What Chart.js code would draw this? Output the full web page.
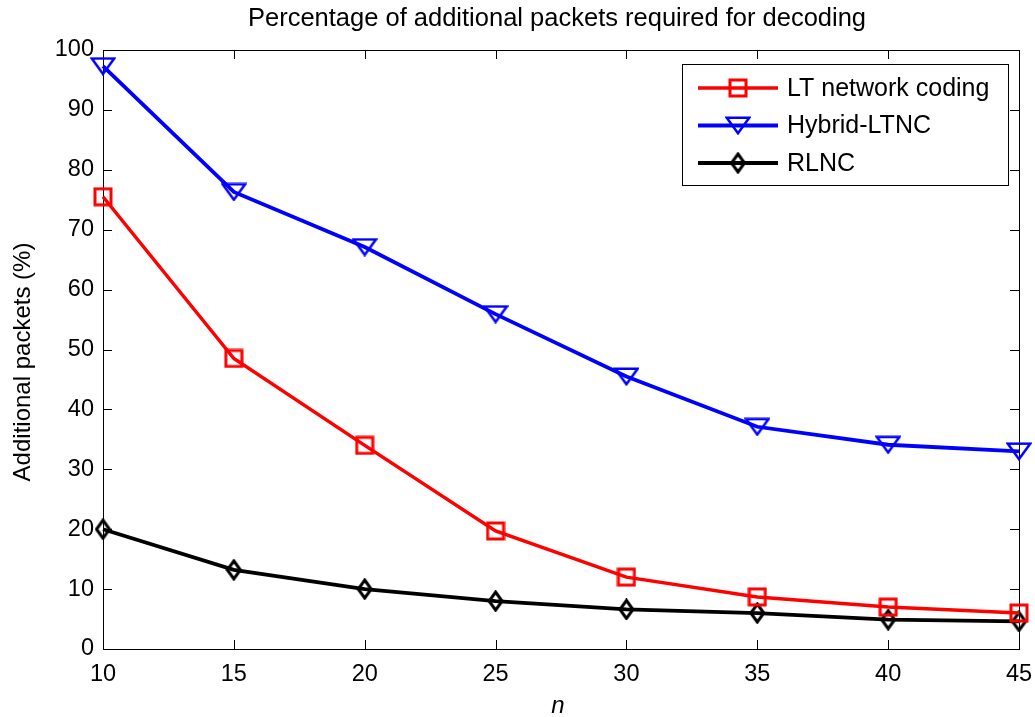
<!DOCTYPE html>
<html>
<head>
<meta charset="utf-8">
<script src="https://cdn.jsdelivr.net/npm/chart.js@4/dist/chart.umd.min.js"></script>
<style>
  body { margin: 0; background: #fff; }
  #wrap { width: 1035px; height: 717px; }
</style>
</head>
<body>
<div id="wrap"><canvas id="chart" width="1035" height="717"></canvas></div>
<script>
const nValues = [10, 15, 20, 25, 30, 35, 40, 45];
const ltCoding = [75.5, 48.5, 34, 19.7, 12, 8.7, 7, 6];
const hybridLtnc = [97.3, 76.3, 67.1, 55.9, 45.5, 37.1, 34.1, 33];
const rlnc = [20, 13.2, 10, 8, 6.6, 6, 4.9, 4.6];
const xTicks = [10, 15, 20, 25, 30, 35, 40, 45];
const yTicks = [0, 10, 20, 30, 40, 50, 60, 70, 80, 90, 100];

const FONT = 'Arial, "Liberation Sans", sans-serif';

// matlab-ish hollow markers drawn on small canvases
function marker(shape, color, w, h, lw) {
  const c = document.createElement('canvas');
  c.width = w; c.height = h;
  const g = c.getContext('2d');
  g.strokeStyle = color;
  g.lineWidth = lw;
  g.beginPath();
  const p = lw / 2 + 0.5;
  if (shape === 'square') {
    g.rect(p, p, w - 2 * p, h - 2 * p);
  } else if (shape === 'down') {
    g.moveTo(p, p);
    g.lineTo(w - p, p);
    g.lineTo(w / 2, h - p);
    g.closePath();
  } else {
    g.moveTo(w / 2, p);
    g.lineTo(w - p, h / 2);
    g.lineTo(w / 2, h - p);
    g.lineTo(p, h / 2);
    g.closePath();
  }
  g.stroke();
  return c;
}

const sqMark = marker('square', '#ff0000', 20, 20, 3);
const triMark = marker('down', '#0000ff', 26, 19, 2.5);
const diaMark = marker('diamond', '#000000', 17, 22, 3);

const series = [
  { label: 'LT network coding', values: ltCoding, color: '#ff0000', mark: sqMark, width: 3.5 },
  { label: 'Hybrid-LTNC', values: hybridLtnc, color: '#0000ff', mark: triMark, width: 3.8 },
  { label: 'RLNC', values: rlnc, color: '#000000', mark: diaMark, width: 3.8 },
];

const framePlugin = {
  id: 'frame',
  beforeDatasetsDraw(chart) {
    const { ctx, chartArea: a, scales } = chart;
    ctx.save();
    ctx.strokeStyle = '#000';
    ctx.lineWidth = 1;
    ctx.strokeRect(a.left + 0.5, a.top + 0.5, a.width, a.height);
    ctx.beginPath();
    xTicks.forEach(v => {
      const x = Math.round(scales.x.getPixelForValue(v)) + 0.5;
      ctx.moveTo(x, a.bottom); ctx.lineTo(x, a.bottom - 9);
      ctx.moveTo(x, a.top); ctx.lineTo(x, a.top + 9);
    });
    yTicks.forEach(v => {
      const y = Math.round(scales.y.getPixelForValue(v)) + 0.5;
      ctx.moveTo(a.left, y); ctx.lineTo(a.left + 9, y);
      ctx.moveTo(a.right, y); ctx.lineTo(a.right - 9, y);
    });
    ctx.stroke();
    ctx.restore();
  },
  afterDraw(chart) {
    const { ctx } = chart;
    ctx.save();
    ctx.fillStyle = '#000';
    ctx.textAlign = 'center';
    ctx.textBaseline = 'middle';
    // title
    ctx.font = '25.5px ' + FONT;
    ctx.fillText('Percentage of additional packets required for decoding', 557, 19);
    // axis titles
    ctx.font = 'italic 24px ' + FONT;
    ctx.fillText('n', 558, 706);
    ctx.save();
    ctx.translate(23, 362);
    ctx.rotate(-Math.PI / 2);
    ctx.font = '24px ' + FONT;
    ctx.fillText('Additional packets (%)', 0, 0);
    ctx.restore();
    // legend box
    const bx = 682, by = 64, bw = 326, bh = 121;
    ctx.fillStyle = '#fff';
    ctx.fillRect(bx, by, bw, bh);
    ctx.strokeStyle = '#000';
    ctx.lineWidth = 1;
    ctx.strokeRect(bx + 0.5, by + 0.5, bw, bh);
    ctx.font = '25px ' + FONT;
    ctx.textAlign = 'left';
    series.forEach((s, i) => {
      const y = 88 + i * 37.5;
      ctx.strokeStyle = s.color;
      ctx.lineWidth = s.width;
      ctx.beginPath();
      ctx.moveTo(698, y); ctx.lineTo(778, y);
      ctx.stroke();
      ctx.drawImage(s.mark, 738 - s.mark.width / 2, y - s.mark.height / 2);
      ctx.fillStyle = '#000';
      ctx.fillText(s.label, 787, y + 1);
    });
    ctx.restore();
  }
};

new Chart(document.getElementById('chart'), {
  type: 'line',
  data: {
    datasets: series.map(s => ({
      label: s.label,
      data: nValues.map((n, i) => ({ x: n, y: s.values[i] })),
      borderColor: s.color,
      borderWidth: s.width,
      pointStyle: s.mark,
      pointRadius: 10,
      tension: 0,
      fill: false,
      clip: false,
    })),
  },
  options: {
    responsive: false,
    animation: false,
    layout: { padding: { left: 0, top: 50, right: 16, bottom: 0 } },
    plugins: { legend: { display: false }, tooltip: { enabled: false } },
    scales: {
      x: {
        type: 'linear',
        min: 10,
        max: 45,
        afterBuildTicks: sc => { sc.ticks = xTicks.map(v => ({ value: v })); },
        afterFit: sc => { sc.height = 68; sc.paddingLeft = 0; sc.paddingRight = 0; },
        grid: { display: false, drawTicks: false },
        border: { display: false },
        ticks: { color: '#000', font: { family: FONT, size: 23.5 }, padding: 11, maxRotation: 0 },
      },
      y: {
        min: 0,
        max: 100,
        afterBuildTicks: sc => { sc.ticks = yTicks.map(v => ({ value: v })); },
        afterFit: sc => { sc.width = 103; sc.paddingTop = 0; sc.paddingBottom = 0; },
        grid: { display: false, drawTicks: false },
        border: { display: false },
        ticks: { color: '#000', font: { family: FONT, size: 23.5 }, padding: 9 },
      },
    },
  },
  plugins: [framePlugin],
});
</script>
</body>
</html>
